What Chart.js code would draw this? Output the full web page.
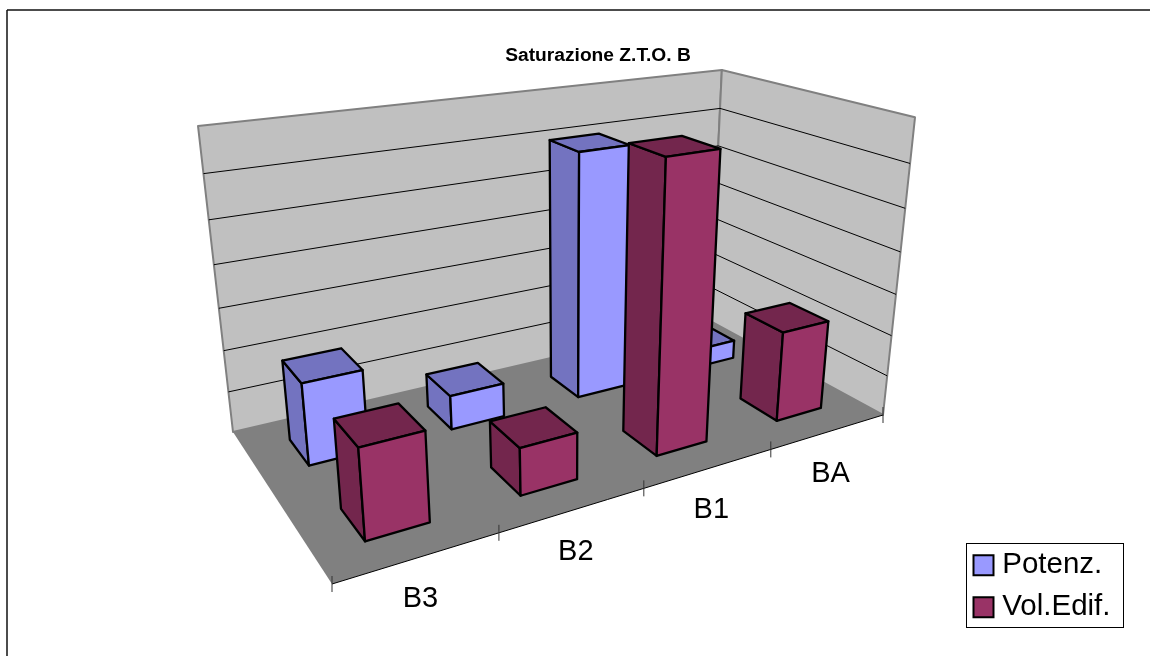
<!DOCTYPE html>
<html>
<head>
<meta charset="utf-8">
<title>Saturazione Z.T.O. B</title>
<script src="https://cdn.jsdelivr.net/npm/chart.js@4"></script>
<style>
  html, body { margin: 0; padding: 0; background: #fff; }
  #wrap { width: 1150px; height: 656px; }
</style>
</head>
<body>
<div id="wrap"><canvas id="grafico" width="1150" height="656"></canvas></div>
<script>
// dati (unità = bande della griglia, asse senza etichette)
const categorie = ["B3", "B2", "B1", "BA"];
const potenz = [1.93, 0.83, 6.02, 0.48];
const volEdif = [2.0, 1.09, 6.63, 2.2];
const asseMax = 7;

// colori faccia frontale / facce laterali
const coloriPotenz = ["#9999ff", "#7373c0"];
const coloriVol = ["#993366", "#73264d"];

// angoli del pavimento in pixel: (u,v) = (0,0) (1,0) (1,1) (0,1)
const pav = [[332, 584], [883, 415], [710, 321], [233, 432]];
const fuga = [567, 3354];      // punto di fuga delle verticali
const altezzaPareti = -0.1047; // verso opposto al punto di fuga, angolo (0,1)
const larghezzaBarra = 0.4;    // frazione di categoria
const profonditaBarra = 0.2;   // frazione della profondità

// omografia quadrato unitario -> pavimento
function omografia(q) {
    const [x0, y0] = q[0], [x1, y1] = q[1], [x2, y2] = q[2], [x3, y3] = q[3];
    const dx1 = x1 - x2, dx2 = x3 - x2, sx = x0 - x1 + x2 - x3;
    const dy1 = y1 - y2, dy2 = y3 - y2, sy = y0 - y1 + y2 - y3;
    const den = dx1 * dy2 - dx2 * dy1;
    const g = (sx * dy2 - dx2 * sy) / den;
    const h = (dx1 * sy - sx * dy1) / den;
    return {
        a: x1 - x0 + g * x1, b: x3 - x0 + h * x3, c: x0,
        d: y1 - y0 + g * y1, e: y3 - y0 + h * y3, f: y0,
        g: g, h: h
    };
}
const H = omografia(pav);
const kAlt = (H.h + 1) * altezzaPareti / (1 - altezzaPareti);

// u lungo le categorie, v in profondità, t altezza 0..1
function proietta(u, v, t) {
    const w = H.g * u + H.h * v + 1 + t * kAlt;
    return [
        (H.a * u + H.b * v + H.c + t * kAlt * fuga[0]) / w,
        (H.d * u + H.e * v + H.f + t * kAlt * fuga[1]) / w
    ];
}

function poligono(ctx, punti, riempi, tratto, spessore) {
    ctx.beginPath();
    punti.forEach((p, i) => i ? ctx.lineTo(p[0], p[1]) : ctx.moveTo(p[0], p[1]));
    ctx.closePath();
    ctx.fillStyle = riempi;
    ctx.fill();
    if (tratto) {
        ctx.strokeStyle = tratto;
        ctx.lineWidth = spessore;
        ctx.lineJoin = "round";
        ctx.stroke();
    }
}

function linea(ctx, a, b, colore, spessore) {
    ctx.beginPath();
    ctx.moveTo(a[0], a[1]);
    ctx.lineTo(b[0], b[1]);
    ctx.strokeStyle = colore;
    ctx.lineWidth = spessore;
    ctx.stroke();
}

const grafico3d = {
    id: "grafico3d",
    afterLayout(chart) {
        // titolo e legenda non stanno dove li metterebbe il layout standard
        const tit = chart.titleBlock;
        tit.left += 23; tit.right += 23;
        const alt = tit.bottom - tit.top;
        tit.top = 44; tit.bottom = 44 + alt;
        const leg = chart.legend;
        const lw = leg.right - leg.left, lh = leg.bottom - leg.top;
        leg.left = 967; leg.right = 967 + lw;
        leg.top = 538; leg.bottom = 538 + lh;
    },
    beforeDraw(chart) {
        const ctx = chart.ctx;
        ctx.save();
        ctx.fillStyle = "#fff";
        ctx.fillRect(0, 0, chart.width, chart.height);
        // la cornice esterna si vede solo in alto e a sinistra
        linea(ctx, [7, 10], [chart.width, 10], "#111", 1.5);
        linea(ctx, [7, 10], [7, chart.height], "#111", 1.5);
        ctx.restore();
    },
    beforeDatasetsDraw(chart) {
        const ctx = chart.ctx, sx = chart.scales.x, sy = chart.scales.y;
        const frazT = val => (sy.bottom - sy.getPixelForValue(val)) / sy.height;
        ctx.save();

        // pareti e pavimento
        poligono(ctx, [proietta(0, 1, 0), proietta(1, 1, 0), proietta(1, 1, 1), proietta(0, 1, 1)], "#c0c0c0", "#808080", 2);
        poligono(ctx, [proietta(1, 1, 0), proietta(1, 0, 0), proietta(1, 0, 1), proietta(1, 1, 1)], "#c0c0c0", "#808080", 2);
        poligono(ctx, [proietta(0, 0, 0), proietta(1, 0, 0), proietta(1, 1, 0), proietta(0, 1, 0)], "#808080");

        // griglia
        sy.ticks.forEach(tick => {
            const t = frazT(tick.value);
            if (t <= 0 || t >= 1) return;
            linea(ctx, proietta(0, 1, t), proietta(1, 1, t), "#000", 1);
            linea(ctx, proietta(1, 1, t), proietta(1, 0, t), "#000", 1);
        });

        // bordo anteriore e tacche
        linea(ctx, proietta(0, 0, 0), proietta(1, 0, 0), "#000", 1);
        for (let i = 0; i <= categorie.length; i++) {
            const p = proietta(i / categorie.length, 0, 0);
            linea(ctx, [p[0], p[1] - 8], [p[0], p[1] + 8], "#333", 1);
        }

        // etichette categorie
        ctx.fillStyle = "#000";
        ctx.font = "29px 'Liberation Sans', Arial, sans-serif";
        ctx.textAlign = "center";
        ctx.textBaseline = "middle";
        categorie.forEach((nome, i) => {
            const u = (sx.getPixelForValue(i) - sx.left) / sx.width;
            const p = proietta(u, 0, 0);
            ctx.fillText(nome, p[0] + 2, p[1] + 42);
        });

        // barre: dalla fila in fondo, da destra a sinistra
        const serie = chart.data.datasets;
        const colori = [coloriPotenz, coloriVol];
        serie.forEach((ds, j) => {
            const vc = 1 - (j + 0.5) / serie.length;
            const v0 = vc - profonditaBarra / 2, v1 = vc + profonditaBarra / 2;
            const passo = 1 / categorie.length;
            for (let i = categorie.length - 1; i >= 0; i--) {
                const uc = (sx.getPixelForValue(i) - sx.left) / sx.width;
                const u0 = uc - passo * larghezzaBarra / 2, u1 = uc + passo * larghezzaBarra / 2;
                const t = frazT(ds.data[i]);
                const [chiaro, scuro] = colori[j];
                poligono(ctx, [proietta(u0, v1, 0), proietta(u0, v0, 0), proietta(u0, v0, t), proietta(u0, v1, t)], scuro, "#000", 2.3);
                poligono(ctx, [proietta(u0, v1, t), proietta(u0, v0, t), proietta(u1, v0, t), proietta(u1, v1, t)], scuro, "#000", 2.3);
                poligono(ctx, [proietta(u0, v0, 0), proietta(u1, v0, 0), proietta(u1, v0, t), proietta(u0, v0, t)], chiaro, "#000", 2.3);
            }
        });
        ctx.restore();
        return false; // niente barre piatte
    },
    afterDraw(chart) {
        const ctx = chart.ctx;
        ctx.save();
        ctx.strokeStyle = "#000";
        ctx.lineWidth = 1;
        ctx.strokeRect(966.5, 543.5, 157, 84);
        ctx.restore();
    }
};

new Chart(document.getElementById("grafico").getContext("2d"), {
    type: "bar",
    data: {
        labels: categorie,
        datasets: [
            { label: "Potenz.", data: potenz, backgroundColor: coloriPotenz[0], borderColor: "#000", borderWidth: 2 },
            { label: "Vol.Edif.", data: volEdif, backgroundColor: coloriVol[0], borderColor: "#000", borderWidth: 2 }
        ]
    },
    options: {
        responsive: false,
        animation: false,
        scales: {
            x: { display: false },
            y: { display: false, min: 0, max: asseMax, ticks: { stepSize: 1 } }
        },
        plugins: {
            tooltip: { enabled: false },
            title: {
                display: true,
                text: "Saturazione Z.T.O. B",
                color: "#000",
                padding: 0,
                font: { family: "'Liberation Sans', Arial, sans-serif", size: 19.2, weight: "bold" }
            },
            legend: {
                position: "right",
                align: "start",
                labels: {
                    color: "#000",
                    font: { family: "'Liberation Sans', Arial, sans-serif", size: 29.5 },
                    usePointStyle: true,
                    pointStyle: "rect",
                    boxWidth: 8,
                    boxHeight: 20,
                    padding: 12.5
                }
            }
        }
    },
    plugins: [grafico3d]
});
</script>
</body>
</html>
